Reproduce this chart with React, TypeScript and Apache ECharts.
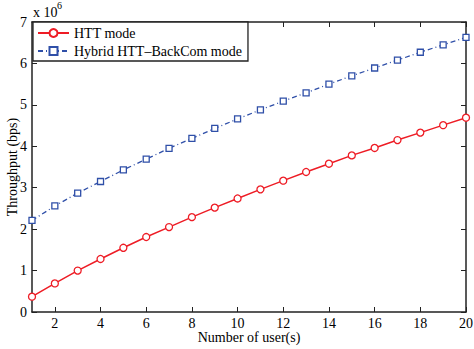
import React, { useEffect, useRef } from "react";
import * as echarts from "echarts";

const users = [1,2,3,4,5,6,7,8,9,10,11,12,13,14,15,16,17,18,19,20];
const httMode = [0.37,0.69,1.0,1.28,1.55,1.81,2.05,2.29,2.52,2.74,2.96,3.17,3.38,3.58,3.78,3.96,4.15,4.33,4.51,4.69];
const hybridMode = [2.21,2.56,2.87,3.15,3.43,3.69,3.95,4.19,4.43,4.66,4.88,5.09,5.29,5.50,5.70,5.89,6.08,6.27,6.45,6.63];
const xTicks = [2,4,6,8,10,12,14,16,18,20];
const seriesNames = ["HTT mode", "Hybrid HTT\u2013BackCom mode"];

const FONT = "Liberation Serif";

export default function App() {
  const ref = useRef<HTMLDivElement>(null);
  useEffect(() => {
    const chart = echarts.init(ref.current!, null, { renderer: "svg" });
    const axisCommon = {
      type: "value",
      axisLine: { show: true, onZero: false, lineStyle: { color: "#222", width: 1.5 } },
      axisTick: { show: true, inside: true, length: 5, lineStyle: { color: "#222", width: 1 } },
      splitLine: { show: false },
    };
    chart.setOption({
      animation: false,
      backgroundColor: "#fff",
      textStyle: { fontFamily: FONT },
      grid: { left: 32, right: 8, top: 22, bottom: 37, containLabel: false, outerBoundsMode: "none" },
      xAxis: [
        {
          ...axisCommon,
          position: "bottom",
          min: 1, max: 20,
          axisTick: { ...axisCommon.axisTick, customValues: xTicks },
          axisLabel: { customValues: xTicks, color: "#000", fontFamily: FONT, fontSize: 14, lineHeight: 14, margin: 4 },
          name: "Number of user(s)",
          nameLocation: "middle",
          nameGap: 18,
          nameMoveOverlap: false,
          nameTextStyle: { color: "#000", fontFamily: FONT, fontSize: 14, lineHeight: 14 },
        },
        {
          ...axisCommon,
          position: "top",
          min: 1, max: 20,
          axisTick: { ...axisCommon.axisTick, customValues: xTicks },
          axisLabel: { show: false, customValues: xTicks },
        },
      ],
      yAxis: [
        {
          ...axisCommon,
          position: "left",
          min: 0, max: 7, interval: 1,
          axisLabel: { color: "#000", fontFamily: FONT, fontSize: 14, margin: 5, showMaxLabel: true, showMinLabel: true, hideOverlap: false },
          name: "Throughput (bps)",
          nameLocation: "middle",
          nameGap: 13,
          nameMoveOverlap: false,
          nameTextStyle: { color: "#000", fontFamily: FONT, fontSize: 14 },
        },
        {
          ...axisCommon,
          position: "right",
          min: 0, max: 7, interval: 1,
          axisLabel: { show: false },
        },
      ],
      legend: {
        left: 33, top: 22,
        orient: "vertical",
        backgroundColor: "#fff",
        borderColor: "#222",
        borderWidth: 1.3,
        borderRadius: 0,
        padding: [4, 6, 3, 4],
        itemGap: 4,
        itemWidth: 31,
        itemHeight: 10,
        textStyle: { fontFamily: FONT, fontSize: 14, color: "#000" },
        data: seriesNames,
      },
      graphic: [
        {
          type: "text",
          left: 33, top: 5,
          style: { text: "x 10", font: `14px ${FONT}`, fill: "#000" },
        },
        {
          type: "text",
          left: 57, top: 0,
          style: { text: "6", font: `10px ${FONT}`, fill: "#000" },
        },
      ],
      series: [
        {
          name: seriesNames[0],
          type: "line",
          data: users.map((u, i) => [u, httMode[i]]),
          symbol: "circle",
          symbolSize: 7,
          itemStyle: { color: "#fff", borderColor: "#ee1c25", borderWidth: 1.3 },
          lineStyle: { color: "#ee1c25", width: 1.5 },
          color: "#ee1c25",
        },
        {
          name: seriesNames[1],
          type: "line",
          data: users.map((u, i) => [u, hybridMode[i]]),
          symbol: "rect",
          symbolSize: 6,
          itemStyle: { color: "#fff", borderColor: "#2f4fa8", borderWidth: 1.3 },
          lineStyle: { color: "#2f4fa8", width: 1.3, type: [5, 3, 1, 3] },
          color: "#2f4fa8",
        },
      ],
    });
    return () => chart.dispose();
  }, []);
  return <div ref={ref} style={{ width: 474, height: 349, position: "absolute", left: 0, top: 0 }} />;
}
